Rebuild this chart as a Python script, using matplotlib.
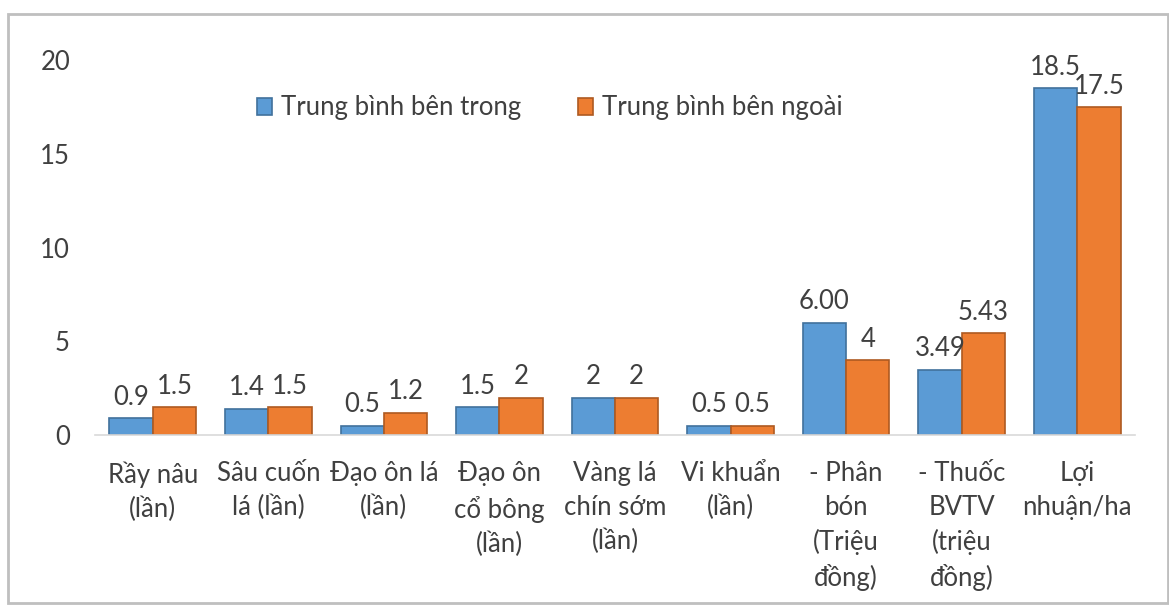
import matplotlib
matplotlib.use("Agg")
import matplotlib.pyplot as plt
import numpy as np
from matplotlib.patches import Rectangle

plt.rcParams['font.family'] = ['Lato', 'Noto Sans', 'DejaVu Sans']

categories = ["Rầy nâu\n(lần)", "Sâu cuốn\nlá (lần)", "Đạo ôn lá\n(lần)",
              "Đạo ôn\ncổ bông\n(lần)", "Vàng lá\nchín sớm\n(lần)", "Vi khuẩn\n(lần)",
              "- Phân\nbón\n(Triệu\nđồng)", "- Thuốc\nBVTV\n(triệu\nđồng)", "Lợi\nnhuận/ha"]
series_names = ["Trung bình bên trong", "Trung bình bên ngoài"]
inside = [0.9, 1.4, 0.5, 1.5, 2, 0.5, 6.00, 3.49, 18.5]
outside = [1.5, 1.5, 1.2, 2, 2, 0.5, 4, 5.43, 17.5]
inside_labels = ["0.9", "1.4", "0.5", "1.5", "2", "0.5", "6.00", "3.49", "18.5"]
outside_labels = ["1.5", "1.5", "1.2", "2", "2", "0.5", "4", "5.43", "17.5"]
yticks = [0, 5, 10, 15, 20]

W, H = 1169, 606
fig = plt.figure(figsize=(W / 100, H / 100), dpi=100)
ax = fig.add_axes([95 / W, 1 - 435 / H, (1135 - 95) / W, (435 - 60) / H])

x = np.arange(len(categories))
bw = 0.375
text_col = '#404040'
fs = 18.5
b1 = ax.bar(x - bw / 2, inside, bw, color='#5B9BD5', edgecolor='#41719C', linewidth=1.2, label=series_names[0])
b2 = ax.bar(x + bw / 2, outside, bw, color='#ED7D31', edgecolor='#AE5A21', linewidth=1.2, label=series_names[1])

for bars, labs in ((b1, inside_labels), (b2, outside_labels)):
    for r, s in zip(bars, labs):
        ax.annotate(s, (r.get_x() + r.get_width() / 2, r.get_height()), xytext=(0, 6),
                    textcoords='offset points', ha='center', va='bottom', fontsize=fs, color=text_col)

ax.set_xlim(-0.5, len(categories) - 0.5)
ax.set_ylim(0, 20)
ax.set_yticks(yticks)
ax.set_yticklabels([str(t) for t in yticks], fontsize=fs, color=text_col)
ax.set_xticks(x)
ax.set_xticklabels(categories, fontsize=fs, color=text_col, linespacing=1.42, va='top')
ax.tick_params(axis='both', length=0)
ax.tick_params(axis='y', pad=18)
ax.tick_params(axis='x', pad=19)
for s in ['top', 'right', 'left']:
    ax.spines[s].set_visible(False)
ax.spines['bottom'].set_color('#D9D9D9')
ax.spines['bottom'].set_linewidth(1.2)

leg = ax.legend(loc='center', bbox_to_anchor=(0.4375, 0.872), ncol=2, frameon=False,
                fontsize=fs, handlelength=0.6, handleheight=0.6, handletextpad=0.35,
                columnspacing=2.2)
for t in leg.get_texts():
    t.set_color(text_col)

fig.patches.append(Rectangle((8 / W, 3 / H), (W - 9) / W, (H - 14 - 3) / H, transform=fig.transFigure,
                             fill=False, edgecolor='#BFBFBF', linewidth=2))

fig.savefig('out.png', dpi=100)
